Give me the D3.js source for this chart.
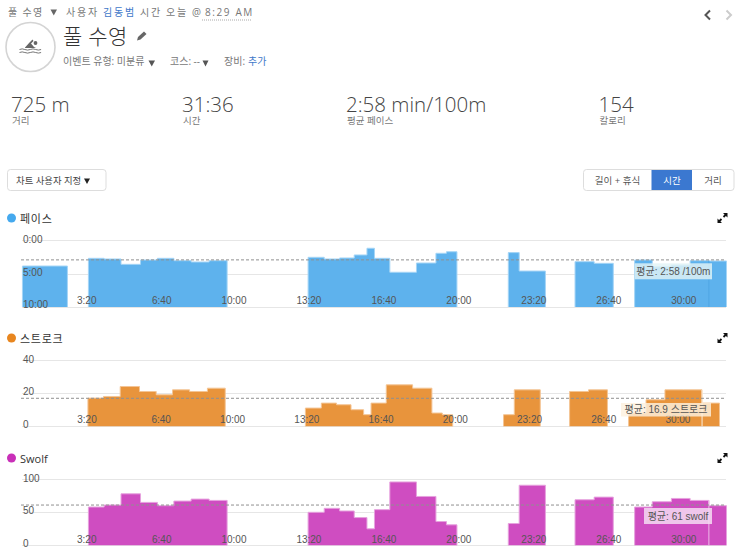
<!DOCTYPE html>
<html lang="ko">
<head>
<meta charset="utf-8">
<script src="https://cdn.jsdelivr.net/npm/d3@7"></script>
<style>
  html, body { margin: 0; padding: 0; background: #fff; }
  svg { display: block; font-family: "Open Sans", "Noto Sans CJK KR", sans-serif; }
  .axis path, .axis line { display: none; }
  .axis text { font-family: "Liberation Sans", "Noto Sans CJK KR", sans-serif; font-size: 10px; fill: #555; }
</style>
</head>
<body>
<svg id="page" width="743" height="555"></svg>
<script>
// Lap boundaries of the swim, in seconds from the start
const segStart = [27, 203, 245, 290, 342, 387, 431, 477, 525, 789, 832, 873, 912, 946, 966, 1007, 1078, 1130, 1158, 1323, 1352, 1501, 1552, 1660, 1707, 1758, 1808, 1858];
const segEnd   = [147, 245, 290, 342, 387, 431, 477, 525, 573, 832, 873, 912, 946, 966, 1007, 1078, 1130, 1158, 1186, 1352, 1422, 1552, 1603, 1707, 1758, 1808, 1858, 1905];

// Per-lap readings; null marks a lap with no reading
const paceValues   = [233, 164, 170, 218, 179, 164, 185, 197, 185, 155, 170, 161, 134, 74, 164, 289, 206, 119, 105, 113, 278, 194, 209, 179, 240, 225, 185, 188];
const strokeValues = [null, 17, 18, 24, 21, 19, 22, 21, 23, 11, 14, 13, 10, 7, 14, 25, 23, 8, 7, 7, 22, 21, 22, 8, 16, 22, 22, 14];
const swolfValues  = [null, 58, 61, 78, 65, 60, 67, 70, 68, 50, 56, 52, 42, 25, 54, 96, 74, 36, 31, 33, 91, 69, 73, 58, 66, 71, 68, 60];

// Time axis ticks
const timeTicks = [200, 400, 600, 800, 1000, 1200, 1400, 1600, 1800];
const timeLabels = ["3:20", "6:40", "10:00", "13:20", "16:40", "20:00", "23:20", "26:40", "30:00"];

const paceTicks = [0, 300, 600];
const paceTickLabels = ["0:00", "5:00", "10:00"];
const strokeTicks = [40, 20, 0];
const swolfTicks = [100, 50, 0];

const paceAverage = 178;
const strokeAverage = 16.9;
const swolfAverage = 61;

const lastLapStart = 1858;

const panels = [
  { title: "페이스", titleSpacing: 0.7, color: "#5eb2ed", edge: "#a5d5f6", dot: "#45a9ee", sep: "#4fa5e4", values: paceValues,
    domain: [0, 600], base: 600, range: [240, 307], ticks: paceTicks,
    tickFormat: (d, i) => paceTickLabels[i], avg: paceAverage, avgText: "평균: 2:58 /100m",
    xRange: [12.3, 726.5], titleY: 218, tickY: 293.5, tickRight: 8.7, tickDy: [-1, -2, -3],
    box: [634.7, 263.3, 77.3, 16], boxFill: "rgba(226,243,245,0.82)" },
  { title: "스트로크", titleSpacing: 0.7, color: "#e8943c", edge: "#f4c595", dot: "#e8861f", sep: "#fbeedd", values: strokeValues,
    domain: [0, 40], base: 0, range: [426.3, 360], ticks: strokeTicks,
    tickFormat: d => String(d), avg: strokeAverage, avgText: "평균: 16.9 스트로크",
    xRange: [12.6, 719.5], titleY: 338, tickY: 413, tickRight: 9.4, tickDy: [-1, -2, -2],
    box: [621, 403, 90, 13.5], boxFill: "rgba(253,240,222,0.82)" },
  { title: "Swolf", titleSpacing: 0, color: "#cf4dc1", edge: "#e6a2de", dot: "#c92fb8", sep: "#eebbe8", values: swolfValues,
    domain: [0, 100], base: 0, range: [545.3, 479.3], ticks: swolfTicks,
    tickFormat: d => String(d), avg: swolfAverage, avgText: "평균: 61 swolf",
    xRange: [12.3, 726.5], titleY: 458, tickY: 533, tickRight: 8.7, tickDy: [-1, -2, -2],
    box: [644, 508, 68, 16], boxFill: "rgba(245,220,242,0.85)" }
];

const svg = d3.select("#page");

// Plain text helper for the activity header
function label(x, y, text, opts = {}) {
  return svg.append("text")
    .attr("x", x).attr("y", y)
    .attr("font-size", opts.size || 10)
    .attr("font-weight", opts.weight || 400)
    .attr("fill", opts.fill || "#777")
    .attr("text-anchor", opts.anchor || "start")
    .attr("letter-spacing", opts.spacing || 0)
    .text(text);
}

function caret(x, y, w, h, fill) {
  svg.append("path").attr("d", `M${x},${y}h${w}l${-w / 2},${h}z`).attr("fill", fill);
}

// Top line: activity type, author, time
label(8, 16, "풀 수영", { spacing: 1.3 });
caret(50.5, 9.5, 6.5, 6, "#666");
label(66, 16, "사용자", { spacing: 1.8 });
label(103, 16, "김동범", { fill: "#3f78c9", spacing: 1.8 });
label(140, 16, "시간", { spacing: 1.8 });
label(166, 16, "오늘", { spacing: 1.8 });
label(192, 16, "@", { spacing: 1 });
label(205, 16, "8:29 AM", { spacing: 1.6 });
svg.append("line").attr("x1", 202).attr("x2", 252).attr("y1", 20).attr("y2", 20)
  .attr("stroke", "#aaa").attr("stroke-dasharray", "1,1");

// Round activity badge with a swimmer
svg.append("circle").attr("cx", 30.5).attr("cy", 47).attr("r", 24.5)
  .attr("fill", "#fff").attr("stroke", "#d4d4d4").attr("stroke-width", 1.6);
const swimmer = svg.append("g").attr("fill", "#666");
swimmer.append("circle").attr("cx", 35.5).attr("cy", 43).attr("r", 1.9);
swimmer.append("path").attr("d", "M25,47.5 L29.5,42.5 L32.5,39.5 L33.5,41 L31,43.5 L34,47 L36,48 L25,48Z");
swimmer.append("path")
  .attr("d", "M19.5,49.5q2.7,-1.2 5.4,0t5.4,0t5.4,0t5.4,0M19.5,52.5q2.7,-1.2 5.4,0t5.4,0t5.4,0t5.4,0")
  .attr("fill", "none").attr("stroke", "#666").attr("stroke-width", 0.9);

// Title and edit pencil
label(63, 44, "풀 수영", { size: 21, fill: "#333", spacing: 0.3, weight: 300 });
svg.append("path").attr("d", "M137,40.5l1,-3.5l6,-5.5l2.5,2.5l-6,5.5z").attr("fill", "#666");

// Event type, course, gear
label(63, 65, "이벤트 유형: 미분류", { size: 10 });
caret(148.5, 60.5, 6.5, 6, "#555");
label(170, 65, "코스: --", { size: 10 });
caret(202.5, 60.5, 6, 6, "#555");
label(224, 65, "장비:", { size: 10 });
label(248, 65, "추가", { size: 10, fill: "#3f78c9" });

// Summary figures
const statNumbers = ["725 m", "31:36", "2:58 min/100m", "154"];
const statNames = ["거리", "시간", "평균 페이스", "칼로리"];
const statX = [11, 182, 346, 598.5];
statNumbers.forEach((s, i) => {
  label(statX[i], 112, s, { size: 20.5, fill: "#444", weight: 300 });
  label(statX[i] + 1, 124, statNames[i], { size: 9.5 });
});

// Previous / next arrows
svg.append("path").attr("d", "M710,10.5l-4.5,4.5l4.5,4.5").attr("fill", "none").attr("stroke", "#555").attr("stroke-width", 2);
svg.append("path").attr("d", "M726.5,10.5l4.5,4.5l-4.5,4.5").attr("fill", "none").attr("stroke", "#ccc").attr("stroke-width", 2);

// Chart controls
svg.append("rect").attr("x", 7.5).attr("y", 169.5).attr("width", 98.5).attr("height", 21).attr("rx", 3)
  .attr("fill", "#fff").attr("stroke", "#ddd");
label(16, 183.5, "차트 사용자 지정", { size: 9.4, fill: "#444" });
caret(84, 178.5, 6, 5.5, "#222");

svg.append("rect").attr("x", 583.5).attr("y", 169.5).attr("width", 150.5).attr("height", 21).attr("rx", 3)
  .attr("fill", "#fff").attr("stroke", "#ddd");
svg.append("rect").attr("x", 651.5).attr("y", 170).attr("width", 40.5).attr("height", 20).attr("fill", "#3b78d0");
label(617.5, 183.5, "길이 + 휴식", { size: 9.5, fill: "#555", anchor: "middle" });
label(672, 183.5, "시간", { size: 9.5, fill: "#fff", anchor: "middle" });
label(713, 183.5, "거리", { size: 9.5, fill: "#555", anchor: "middle" });

// Three stepped panels share the lap table
const laps = segStart.map((s, i) => ({ start: s, end: segEnd[i] }));

panels.forEach(p => {
  const x = d3.scaleLinear().domain([0, 1905]).range(p.xRange);
  const y = d3.scaleLinear().domain(p.domain).range(p.range);
  const g = svg.append("g");

  // Panel title
  g.append("circle").attr("cx", 11.5).attr("cy", p.titleY).attr("r", 4.5).attr("fill", p.dot);
  g.append("text").attr("x", 20).attr("y", p.titleY + 4.5).attr("font-size", 11)
    .attr("letter-spacing", p.titleSpacing).attr("fill", "#333").text(p.title);

  // Expand control
  const ex = g.append("g").attr("transform", `translate(722.5,${p.titleY})`).attr("fill", "#111");
  ex.append("path").attr("d", "M1,-1L4,-4M-1,1L-4,4").attr("stroke", "#111").attr("stroke-width", 1.8).attr("fill", "none");
  ex.append("path").attr("d", "M0.5,-5h4.5v4.5zM-0.5,5h-4.5v-4.5z");

  // Horizontal grid
  g.selectAll("line.grid").data(p.ticks).join("line").attr("class", "grid")
    .attr("x1", 22).attr("x2", 726)
    .attr("y1", d => Math.round(y(d)) + 0.5).attr("y2", d => Math.round(y(d)) + 0.5)
    .attr("stroke", "#e6e6e6");

  // Split the laps into continuous runs, leaving gaps at rests
  const rows = laps.map((l, i) => ({ ...l, v: p.values[i] })).filter(d => d.v !== null);
  const runs = [];
  rows.forEach((d, i) => {
    if (i === 0 || rows[i - 1].end !== d.start) runs.push([]);
    runs[runs.length - 1].push(d);
  });

  const area = d3.area().curve(d3.curveStepAfter)
    .x(d => x(d.t)).y0(y(p.base)).y1(d => y(d.v));
  const line = d3.line().curve(d3.curveStepAfter)
    .x(d => x(d.t)).y(d => y(d.v));
  const outline = run => {
    const pts = [{ t: run[0].start, v: p.base }];
    run.forEach(d => pts.push({ t: d.start, v: d.v }));
    const last = run[run.length - 1];
    pts.push({ t: last.end, v: last.v }, { t: last.end, v: p.base });
    return pts;
  };

  g.selectAll("path.fill").data(runs).join("path").attr("class", "fill")
    .attr("d", r => area(outline(r))).attr("fill", p.color);
  g.selectAll("path.edge").data(runs).join("path").attr("class", "edge")
    .attr("d", r => line(outline(r))).attr("fill", "none").attr("stroke", p.edge).attr("stroke-width", 1);

  // Divider in front of the final lap
  const lastIdx = segStart.indexOf(lastLapStart);
  const divTop = Math.min(y(p.values[lastIdx]), y(p.values[lastIdx - 1]));
  g.append("line").attr("x1", x(lastLapStart)).attr("x2", x(lastLapStart))
    .attr("y1", divTop).attr("y2", y(p.base))
    .attr("stroke", p.sep).attr("stroke-width", 1);

  // Average line
  g.append("line").attr("x1", 21).attr("x2", 726)
    .attr("y1", y(p.avg)).attr("y2", y(p.avg))
    .attr("stroke", "#8f8f8f").attr("stroke-dasharray", "3,2");

  // Axes sit above the bars; labels hang off a right edge beside each tick
  const xAxis = g.append("g").attr("class", "axis")
    .attr("transform", `translate(0,${p.tickY})`)
    .call(d3.axisBottom(x).tickValues(timeTicks).tickFormat((d, i) => timeLabels[i]).tickSize(0));
  xAxis.selectAll("text").attr("text-anchor", "end").attr("x", p.tickRight);

  const yAxis = g.append("g").attr("class", "axis")
    .attr("transform", "translate(23,0)")
    .call(d3.axisLeft(y).tickValues(p.ticks).tickFormat(p.tickFormat).tickSize(0));
  yAxis.selectAll("text").attr("text-anchor", "start").attr("x", 0)
    .attr("dy", (d, i) => p.tickDy[i] + 3.5);

  // Average badge
  g.append("rect").attr("x", p.box[0]).attr("y", p.box[1]).attr("width", p.box[2]).attr("height", p.box[3])
    .attr("fill", p.boxFill);
  g.append("text").attr("x", p.box[0] + p.box[2] / 2).attr("y", p.box[1] + p.box[3] / 2 + 3.5)
    .attr("text-anchor", "middle").attr("font-size", 10)
    .attr("font-family", '"Liberation Sans", "Noto Sans CJK KR", sans-serif')
    .attr("fill", "#555").text(p.avgText);
});
</script>
</body>
</html>
